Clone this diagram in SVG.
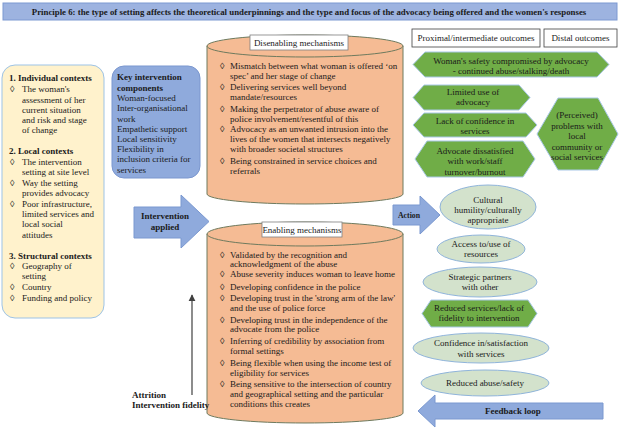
<svg xmlns="http://www.w3.org/2000/svg" width="620" height="430" viewBox="0 0 620 430">
<defs>
<style>
text{font-family:"Liberation Serif","Times New Roman",serif;fill:#1a1a1a;}
.t{font-size:9px;}
.b{font-size:9px;font-weight:bold;}
.c{text-anchor:middle;}
.cyl{fill:#F5BB94;stroke:#6E7A5E;stroke-width:1;}
.hex{fill:#70AD47;stroke:#A9C8E8;stroke-width:1;}
.ell{fill:#D3E2CC;stroke:#8FB4DA;stroke-width:1;}
.blk{fill:#8FAADC;stroke:#7A98D0;stroke-width:1;}
.lbl{fill:#fff;stroke:#7F7F7F;stroke-width:0.8;}
</style>
<marker id="ah" viewBox="0 0 10 10" refX="9" refY="5" markerWidth="6" markerHeight="6" orient="auto"><path d="M0,0 L10,5 L0,10 Z" fill="#404040"/></marker>
</defs>
<rect width="620" height="430" fill="#fff"/>

<g id="title">
<rect x="3" y="3" width="614" height="17" fill="#9DB3E0" stroke="#7C99D2" stroke-width="1"/>
<text x="309" y="14.8" class="c" style="font-size:8.8px;font-weight:bold">Principle 6: the type of setting affects the theoretical underpinnings and the type and focus of the advocacy being offered and the women's responses</text>
</g>

<g id="contexts">
<rect x="2" y="65" width="102" height="253" rx="13" fill="#FFF2CC" stroke="#9DC3E6" stroke-width="1"/>
<text x="9" y="81" class="b">1. Individual contexts</text>
<text x="10" y="92" class="t">◊</text><text x="22" y="92" class="t">The woman's</text>
<text x="22" y="102.5" class="t">assessment of her</text>
<text x="22" y="113" class="t">current situation</text>
<text x="22" y="123" class="t">and risk and stage</text>
<text x="22" y="133" class="t">of change</text>
<text x="9" y="154" class="b">2. Local contexts</text>
<text x="10" y="165" class="t">◊</text><text x="22" y="165" class="t">The intervention</text>
<text x="22" y="175" class="t">setting at site level</text>
<text x="10" y="186" class="t">◊</text><text x="22" y="186" class="t">Way the setting</text>
<text x="22" y="196" class="t">provides advocacy</text>
<text x="10" y="207" class="t">◊</text><text x="22" y="207" class="t">Poor infrastructure,</text>
<text x="22" y="217" class="t">limited services and</text>
<text x="22" y="227" class="t">local social</text>
<text x="22" y="238" class="t">attitudes</text>
<text x="9" y="259" class="b">3. Structural contexts</text>
<text x="10" y="269" class="t">◊</text><text x="22" y="269" class="t">Geography of</text>
<text x="22" y="279" class="t">setting</text>
<text x="10" y="290" class="t">◊</text><text x="22" y="290" class="t">Country</text>
<text x="10" y="301" class="t">◊</text><text x="22" y="301" class="t">Funding and policy</text>
</g>

<g id="key-components">
<rect x="112" y="66" width="88" height="112" rx="12" fill="#8FAADC" stroke="#7B97CF" stroke-width="1"/>
<text x="117" y="80" class="b">Key intervention</text>
<text x="117" y="91" class="b">components</text>
<text x="117" y="101" class="t">Woman-focused</text>
<text x="117" y="111" class="t">Inter-organisational</text>
<text x="117" y="122" class="t">work</text>
<text x="117" y="132" class="t">Empathetic support</text>
<text x="117" y="142" class="t">Local sensitivity</text>
<text x="117" y="152" class="t">Flexibility in</text>
<text x="117" y="162" class="t">inclusion criteria for</text>
<text x="117" y="173" class="t">services</text>
</g>

<g id="disenabling">
<path class="cyl" d="M207,46 V194 A98,10 0 0 0 403,194 V46 Z"/>
<ellipse class="cyl" cx="305" cy="46" rx="98" ry="11"/>
<rect class="lbl" x="250" y="35" width="98" height="15"/>
<text x="299" y="45.5" class="t c">Disenabling mechanisms</text>
<g class="t">
<text x="220" y="69">◊</text><text x="230" y="69">Mismatch between what woman is offered ‘on</text>
<text x="230" y="79">spec’ and her stage of change</text>
<text x="220" y="90">◊</text><text x="230" y="90">Delivering services well beyond</text>
<text x="230" y="100">mandate/resources</text>
<text x="220" y="112">◊</text><text x="230" y="112">Making the perpetrator of abuse aware of</text>
<text x="230" y="122">police involvement/resentful of this</text>
<text x="220" y="132">◊</text><text x="230" y="132">Advocacy as an unwanted intrusion into the</text>
<text x="230" y="142">lives of the women that intersects negatively</text>
<text x="230" y="152">with broader societal structures</text>
<text x="220" y="164">◊</text><text x="230" y="164">Being constrained in service choices and</text>
<text x="230" y="174">referrals</text>
</g>
</g>

<g id="enabling">
<path class="cyl" d="M207,234 V413 A98,10 0 0 0 403,413 V234 Z"/>
<ellipse class="cyl" cx="305" cy="234" rx="98" ry="12"/>
<rect class="lbl" x="262" y="222" width="80" height="15"/>
<text x="302" y="232.5" class="t c">Enabling mechanisms</text>
<g class="t">
<text x="220" y="258">◊</text><text x="230" y="258">Validated by the recognition and</text>
<text x="230" y="267">acknowledgment of the abuse</text>
<text x="220" y="277">◊</text><text x="230" y="277">Abuse severity induces woman to leave home</text>
<text x="220" y="290">◊</text><text x="230" y="290">Developing confidence in the police</text>
<text x="220" y="301">◊</text><text x="230" y="301">Developing trust in the 'strong arm of the law'</text>
<text x="230" y="311">and the use of police force</text>
<text x="220" y="323">◊</text><text x="230" y="323">Developing trust in the independence of the</text>
<text x="230" y="332">advocate from the police</text>
<text x="220" y="344">◊</text><text x="230" y="344">Inferring of credibility by association from</text>
<text x="230" y="354">formal settings</text>
<text x="220" y="366">◊</text><text x="230" y="366">Being flexible when using the income test of</text>
<text x="230" y="376">eligibility for services</text>
<text x="220" y="387">◊</text><text x="230" y="387">Being sensitive to the intersection of country</text>
<text x="230" y="397">and geographical setting and the particular</text>
<text x="230" y="407">conditions this creates</text>
</g>
</g>

<g id="outcome-headers">
<rect x="412" y="29" width="128" height="18" fill="#fff" stroke="#404040" stroke-width="0.8"/>
<text x="476" y="41" class="t c">Proximal/intermediate outcomes</text>
<rect x="544" y="29" width="73" height="18" fill="#fff" stroke="#404040" stroke-width="0.8"/>
<text x="580.5" y="41" class="t c">Distal outcomes</text>
</g>

<g id="safety-compromised">
<polygon class="hex" points="413,64.5 425,52 597,52 609,64.5 597,77 425,77"/>
<text x="511" y="64" class="t c">Woman's safety compromised by advocacy</text>
<text x="511" y="74" class="t c">- continued abuse/stalking/death</text>
</g>
<g id="limited-use">
<polygon class="hex" points="413,97.5 424,85 519,85 530,97.5 519,110 424,110"/>
<text x="473" y="95" class="t c">Limited use of</text>
<text x="473" y="105" class="t c">advocacy</text>
</g>
<g id="lack-confidence">
<polygon class="hex" points="413,125 424,113 526,113 537,125 526,137 424,137"/>
<text x="475" y="124" class="t c">Lack of confidence in</text>
<text x="475" y="134" class="t c">services</text>
</g>
<g id="advocate-dissatisfied">
<polygon class="hex" points="415,159 427,141 523,141 535,159 523,177 427,177"/>
<text x="475" y="154" class="t c">Advocate dissatisfied</text>
<text x="475" y="164" class="t c">with work/staff</text>
<text x="475" y="175" class="t c">turnover/burnout</text>
</g>
<g id="perceived-problems">
<polygon class="hex" points="537,134 558,98 598,98 618,134 598,170 558,170"/>
<text x="577" y="118" class="t c">(Perceived)</text>
<text x="577" y="129" class="t c">problems with</text>
<text x="577" y="139" class="t c">local</text>
<text x="577" y="150" class="t c">community or</text>
<text x="577" y="160" class="t c">social services</text>
</g>

<g id="cultural-humility">
<ellipse class="ell" cx="488" cy="207" rx="48" ry="22"/>
<text x="488" y="203" class="t c">Cultural</text>
<text x="488" y="213" class="t c">humility/culturally</text>
<text x="488" y="223" class="t c">appropriate</text>
</g>
<g id="access-resources">
<ellipse class="ell" cx="481" cy="249" rx="44" ry="14"/>
<text x="481" y="247" class="t c">Access to/use of</text>
<text x="481" y="257" class="t c">resources</text>
</g>
<g id="strategic-partners">
<ellipse class="ell" cx="480" cy="282" rx="57" ry="15"/>
<text x="480" y="280" class="t c">Strategic partners</text>
<text x="480" y="290" class="t c">with other</text>
</g>
<g id="reduced-services">
<polygon class="hex" points="422,313.5 431,300 528,300 537,313.5 528,327 431,327"/>
<text x="479" y="311" class="t c">Reduced services/lack of</text>
<text x="479" y="321" class="t c">fidelity to intervention</text>
</g>
<g id="confidence-satisfaction">
<ellipse class="ell" cx="481" cy="348" rx="68" ry="15"/>
<text x="481" y="346" class="t c">Confidence in/satisfaction</text>
<text x="481" y="357" class="t c">with services</text>
</g>
<g id="reduced-abuse">
<ellipse class="ell" cx="485" cy="383" rx="64" ry="13"/>
<text x="485" y="386" class="t c">Reduced abuse/safety</text>
</g>

<g id="connectors">
<polygon class="blk" points="134,207 181,207 181,195 209,221.5 181,248 181,238 134,238"/>
<text x="165" y="219" class="b c">Intervention</text>
<text x="165" y="230" class="b c">applied</text>
<polygon class="blk" points="393,205 420,205 420,196 440,215 420,234 420,225 393,225"/>
<text x="409" y="217.5" class="b c" style="font-size:7.8px">Action</text>
<polygon class="blk" points="603,403 435,403 435,395 418,411 435,427 435,419 603,419"/>
<text x="513" y="414" class="b c">Feedback loop</text>
<line x1="192" y1="395" x2="192" y2="295" stroke="#404040" stroke-width="1.2" marker-end="url(#ah)"/>
<text x="132" y="398" class="b">Attrition</text>
<text x="132" y="408" class="b">Intervention fidelity</text>
</g>
</svg>
